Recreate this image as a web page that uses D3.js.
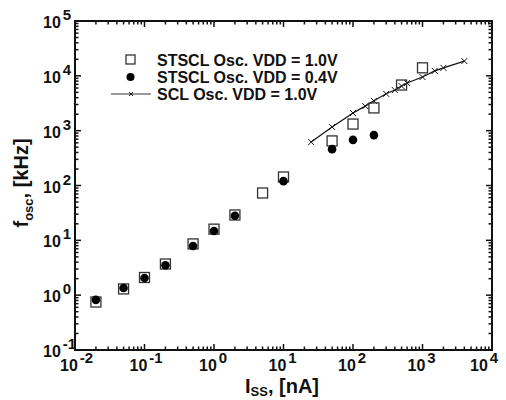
<!DOCTYPE html>
<html lang="en">
<head>
<meta charset="utf-8" />
<title></title>
<script src="https://d3js.org/d3.v7.min.js"></script>
<style>
    body { margin: 0; background: #fff; }
    svg text { font-family: "Liberation Sans", Arial, sans-serif; font-weight: bold; fill: #111; }
</style>
</head>
<body>
<svg width="506" height="400"></svg>
<script>
    // STSCL VDD = 1.0V (open squares)
    var stscl10X = [0.02, 0.05, 0.1, 0.2, 0.5, 1, 2, 5, 10, 50, 100, 200, 500, 1000];
    var stscl10Y = [0.75, 1.3, 2.1, 3.7, 8.6, 16, 29, 73, 143, 650, 1320, 2600, 6800, 14000];
    // STSCL VDD = 0.4V (filled circles)
    var stscl04X = [0.02, 0.05, 0.1, 0.2, 0.5, 1, 2, 10, 50, 100, 200];
    var stscl04Y = [0.82, 1.35, 2.05, 3.5, 7.9, 14.8, 28, 120, 460, 680, 830];
    // SCL VDD = 1.0V (line with x marks)
    var sclX = [25, 50, 100, 150, 200, 300, 400, 500, 600, 1000, 1500, 2000, 4000];
    var sclY = [620, 1170, 2100, 2800, 3500, 4700, 5500, 6500, 7400, 9500, 12300, 14000, 18600];

    var xExps = [-2, -1, 0, 1, 2, 3, 4];
    var yExps = [-1, 0, 1, 2, 3, 4, 5];
    var legendLabels = ["STSCL Osc. VDD = 1.0V", "STSCL Osc. VDD = 0.4V", "SCL Osc. VDD = 1.0V"];

    var svg = d3.select("svg");
    var pL = 75, pR = 492, pT = 21, pB = 350;

    var x = d3.scaleLog().domain([1e-2, 1e4]).range([pL, pR]);
    var y = d3.scaleLog().domain([1e-1, 1e5]).range([pB, pT]);

    // minor + major ticks
    var ticksX = [], ticksY = [];
    for (var e = -2; e < 4; e++) for (var m = 1; m < 10; m++) ticksX.push({ v: m * Math.pow(10, e), major: m === 1 });
    ticksX.push({ v: 1e4, major: true });
    for (var e = -1; e < 5; e++) for (var m = 1; m < 10; m++) ticksY.push({ v: m * Math.pow(10, e), major: m === 1 });
    ticksY.push({ v: 1e5, major: true });

    var tk = svg.append("g").attr("stroke", "#111").attr("stroke-width", 1.5);
    ticksX.forEach(function (t) {
        var len = t.major ? 6 : 3.5, px = x(t.v);
        tk.append("line").attr("x1", px).attr("x2", px).attr("y1", pB).attr("y2", pB - len);
        tk.append("line").attr("x1", px).attr("x2", px).attr("y1", pT).attr("y2", pT + len);
    });
    ticksY.forEach(function (t) {
        var len = t.major ? 6 : 3.5, py = y(t.v);
        tk.append("line").attr("x1", pL).attr("x2", pL + len).attr("y1", py).attr("y2", py);
        tk.append("line").attr("x1", pR).attr("x2", pR - len).attr("y1", py).attr("y2", py);
    });

    svg.append("rect")
        .attr("x", pL).attr("y", pT)
        .attr("width", pR - pL).attr("height", pB - pT)
        .attr("fill", "none").attr("stroke", "#111").attr("stroke-width", 2);

    // tick labels
    xExps.forEach(function (e) {
        var sx = Math.min(x(Math.pow(10, e)) - 15, 470);
        var t = svg.append("text").attr("x", sx).attr("y", 371)
            .attr("font-size", 16);
        t.append("tspan").text("10");
        t.append("tspan").attr("dx", 2).attr("dy", -8).attr("font-size", 15).text(e);
    });
    yExps.forEach(function (e) {
        var t = svg.append("text").attr("x", 43).attr("y", y(Math.pow(10, e)) + 7)
            .attr("font-size", 16);
        t.append("tspan").text("10");
        t.append("tspan").attr("dx", 2).attr("dy", -8).attr("font-size", 15).text(e);
    });

    // axis titles
    var xt = svg.append("text").attr("x", 282).attr("y", 393)
        .attr("text-anchor", "middle").attr("font-size", 20);
    xt.append("tspan").text("I");
    xt.append("tspan").attr("dy", 3).attr("font-size", 13).text("SS");
    xt.append("tspan").attr("dy", -3).text(", [nA]");

    var yt = svg.append("text").attr("transform", "translate(28,183) rotate(-90)")
        .attr("text-anchor", "middle").attr("font-size", 20);
    yt.append("tspan").text("f");
    yt.append("tspan").attr("dy", 5).attr("font-size", 13).text("osc");
    yt.append("tspan").attr("dy", -5).text(", [kHz]");

    function cross(g, cx, cy, s) {
        g.append("path")
            .attr("d", "M" + (cx - s) + "," + (cy - s) + "L" + (cx + s) + "," + (cy + s) +
                "M" + (cx - s) + "," + (cy + s) + "L" + (cx + s) + "," + (cy - s))
            .attr("stroke", "#111").attr("stroke-width", 1);
    }

    // SCL line
    var scl = sclX.map(function (v, i) { return [v, sclY[i]]; });
    svg.append("path").datum(scl)
        .attr("d", d3.line().x(function (d) { return x(d[0]); }).y(function (d) { return y(d[1]); }))
        .attr("fill", "none").attr("stroke", "#111").attr("stroke-width", 1.2);
    var gx = svg.append("g");
    scl.forEach(function (d) { cross(gx, x(d[0]), y(d[1]), 3); });

    // squares
    svg.append("g").selectAll("rect").data(stscl10X).join("rect")
        .attr("x", function (d) { return x(d) - 5; })
        .attr("y", function (d, i) { return y(stscl10Y[i]) - 5; })
        .attr("width", 10).attr("height", 10)
        .attr("fill", "none").attr("stroke", "#333").attr("stroke-width", 1.3);

    // circles
    svg.append("g").selectAll("circle").data(stscl04X).join("circle")
        .attr("cx", function (d) { return x(d); })
        .attr("cy", function (d, i) { return y(stscl04Y[i]); })
        .attr("r", 4.3).attr("fill", "#000");

    // legend
    var lg = svg.append("g");
    lg.append("rect").attr("x", 126).attr("y", 55).attr("width", 9).attr("height", 9)
        .attr("fill", "none").attr("stroke", "#333").attr("stroke-width", 1.3);
    lg.append("circle").attr("cx", 130.5).attr("cy", 77).attr("r", 4).attr("fill", "#000");
    lg.append("line").attr("x1", 111).attr("x2", 151).attr("y1", 94).attr("y2", 94)
        .attr("stroke", "#777").attr("stroke-width", 1.5);
    cross(lg, 131, 94, 2);
    legendLabels.forEach(function (s, i) {
        lg.append("text").attr("x", 157).attr("y", 66 + i * 17).attr("font-size", 16).text(s);
    });
</script>
</body>
</html>
